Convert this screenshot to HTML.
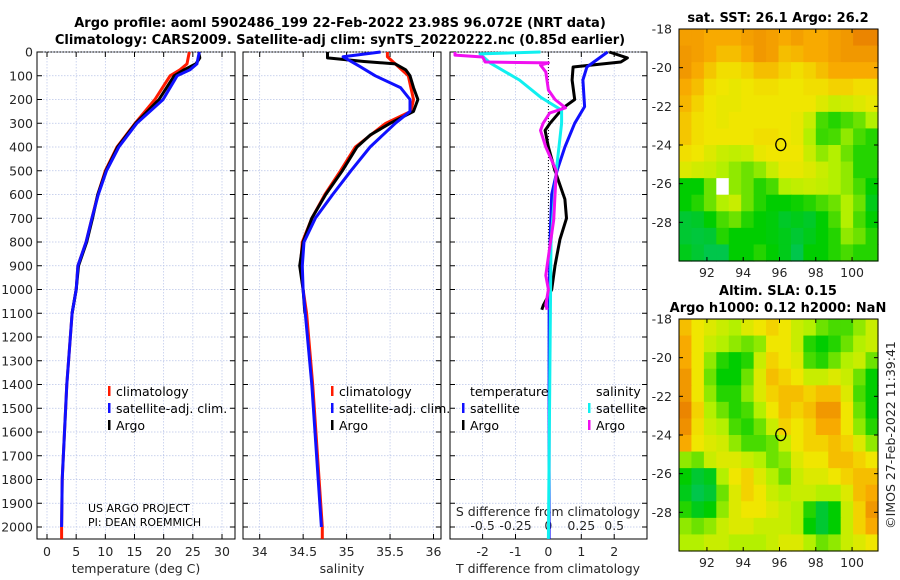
<!DOCTYPE html>
<html><head><meta charset="utf-8">
<style>
html,body{margin:0;padding:0;background:#fff;}
svg{display:block;font-family:"DejaVu Sans","Liberation Sans",sans-serif;}
.tk{font-size:12.5px;fill:#262626;}
.ttl{font-size:13px;font-weight:bold;fill:#000;}
.lg{font-size:12.5px;fill:#000;}
</style></head>
<body>
<svg id="chart" width="900" height="580" viewBox="0 0 900 580">
<text class="ttl" x="340" y="27" text-anchor="middle">Argo profile: aoml 5902486_199 22-Feb-2022 23.98S 96.072E (NRT data)</text>
<text class="ttl" x="340" y="44" text-anchor="middle">Climatology: CARS2009. Satellite-adj clim: synTS_20220222.nc (0.85d earlier)</text>
<text class="ttl" x="778" y="22" text-anchor="middle">sat. SST: 26.1 Argo: 26.2</text>
<text class="ttl" x="778" y="295" text-anchor="middle">Altim. SLA: 0.15</text>
<text class="ttl" x="778" y="312" text-anchor="middle">Argo h1000: 0.12 h2000: NaN</text>
<text class="tk" transform="translate(895,435) rotate(-90)" text-anchor="middle">©IMOS 27-Feb-2022 11:39:41</text>
<text x="88" y="512" style="font-size:11px">US ARGO PROJECT</text>
<text x="88" y="526" style="font-size:11px">PI: DEAN ROEMMICH</text>
<g id="g"></g>
</svg>
<script>
const depthTicks=[0,100,200,300,400,500,600,700,800,900,1000,1100,1200,1300,1400,1500,1600,1700,1800,1900,2000];
const tempTicks=[0,5,10,15,20,25,30];
const salTicks=[34,34.5,35,35.5,36];
const salTickLabels=["34","34.5","35","35.5","36"];
const tdiffTicks=[-2,-1,0,1,2];
const sdiffTicks=[-0.5,-0.25,0,0.25,0.5];
const sdiffTickLabels=["-0.5","-0.25","0","0.25","0.5"];
const tClimDepth=[0,50,75,100,200,300,400,500,600,700,800,900,1000,1100,1400,1800,2000,2050];
const tClim=[24.4,24.0,22.8,21.1,18.5,15.1,12.0,10.0,8.7,7.7,6.7,5.3,5.0,4.3,3.4,2.6,2.5,2.5];
const tSatDepth=[0,50,75,100,200,300,400,500,600,700,800,900,1000,1100,1400,1800,2000];
const tSat=[26.1,25.7,24.5,22.3,19.9,15.4,12.3,10.2,8.8,7.7,6.7,5.3,5.0,4.3,3.4,2.6,2.5];
const tArgoDepth=[0,25,50,75,100,200,300,400,500,600,700,800,900,1000,1100];
const tArgo=[26.0,26.2,25.5,23.5,21.8,19.2,15.2,12.1,10.1,8.7,7.8,6.8,5.4,5.0,4.3];
const sClimDepth=[0,20,50,100,200,250,300,400,500,600,700,800,900,1000,1100,1400,2000,2050];
const sClim=[35.47,35.47,35.56,35.71,35.77,35.74,35.45,35.1,34.93,34.75,34.6,34.49,34.47,34.5,34.54,34.61,34.72,34.72];
const sSatDepth=[0,20,60,100,150,200,250,300,400,500,600,700,800,900,1000,1400,2000];
const sSat=[35.39,34.96,35.15,35.33,35.62,35.73,35.73,35.56,35.27,35.05,34.84,34.64,34.51,34.49,34.5,34.6,34.71];
const sArgoDepth=[0,10,25,40,50,75,100,150,200,250,300,350,400,500,600,700,800,900,1000,1100];
const sArgo=[34.78,34.78,34.78,35.2,35.56,35.68,35.73,35.77,35.82,35.77,35.5,35.27,35.12,34.95,34.76,34.6,34.5,34.46,34.5,34.52];
const dTSatDepth=[0,63,118,230,300,400,500,600,800,1100,2050];
const dTSat=[1.8,1.17,1.05,1.1,0.8,0.5,0.26,0.1,0.05,0.02,0.02];
const dTArgoDepth=[0,25,42,63,118,200,235,300,330,400,500,620,700,790,900,1000,1065,1085];
const dTArgo=[1.85,2.4,2.2,0.75,0.72,0.8,0.45,0.05,-0.1,0.0,0.2,0.5,0.55,0.35,0.2,0.1,-0.15,-0.2];
const dSSatDepth=[0,8,47,118,190,245,300,500,800,2050];
const dSSat=[-0.06,-0.52,-0.44,-0.22,-0.06,0.1,0.1,0.06,0.02,0.0];
const dSArgoDepth=[0,13,21,42,46,55,84,160,200,235,257,300,330,400,500,707,900,940,1000,1065,1085];
const dSArgo=[-0.71,-0.71,-0.5,-0.48,0.0,-0.06,-0.02,0.0,0.05,0.13,0.01,-0.04,-0.06,-0.02,0.06,0.04,-0.01,-0.02,0.0,-0.02,-0.01];
const sstGrid=[
[.88,.88,.85,.85,.85,.88,.9,.88,.85,.88,.85,.85,.88,.9,.95,.95],
[.9,.88,.85,.8,.8,.85,.9,.88,.8,.82,.85,.85,.88,.9,.9,.9],
[.9,.85,.78,.72,.72,.75,.8,.8,.75,.72,.75,.8,.85,.85,.85,.85],
[.85,.8,.72,.7,.68,.7,.72,.72,.7,.7,.72,.72,.75,.75,.72,.72],
[.82,.75,.7,.68,.68,.7,.7,.7,.7,.7,.7,.65,.6,.62,.65,.68],
[.78,.72,.7,.68,.7,.7,.7,.7,.7,.68,.6,.4,.35,.4,.45,.55],
[.78,.72,.7,.7,.7,.7,.72,.72,.7,.68,.55,.38,.4,.5,.4,.35],
[.72,.7,.65,.6,.58,.6,.68,.7,.7,.7,.6,.5,.55,.45,.35,.35],
[.65,.62,.6,.55,.5,.45,.5,.6,.68,.68,.65,.6,.55,.5,.35,.35],
[.3,.3,.45,-1,.5,.45,.35,.4,.55,.58,.6,.58,.55,.5,.4,.3],
[.3,.35,.45,.55,.6,.45,.35,.3,.3,.32,.35,.4,.45,.55,.45,.25],
[.2,.22,.3,.4,.45,.35,.3,.28,.22,.25,.22,.3,.4,.55,.4,.3],
[.2,.18,.2,.35,.3,.3,.3,.28,.25,.2,.25,.3,.35,.5,.45,.35],
[.25,.2,.15,.15,.3,.3,.35,.3,.25,.15,.3,.3,.35,.4,.35,.35]];
const slaGrid=[
[.8,.7,.65,.6,.55,.65,.7,.75,.7,.6,.55,.45,.4,.4,.5,.6],
[.85,.7,.6,.55,.5,.45,.5,.7,.7,.6,.35,.3,.35,.45,.55,.6],
[.85,.7,.5,.35,.3,.35,.6,.75,.7,.65,.4,.35,.45,.55,.6,.45],
[.9,.7,.45,.3,.3,.45,.65,.8,.75,.7,.6,.6,.65,.6,.45,.3],
[.9,.7,.5,.35,.35,.5,.65,.75,.8,.8,.75,.8,.8,.65,.4,.3],
[.95,.75,.55,.45,.35,.4,.55,.7,.8,.75,.8,.9,.9,.7,.45,.3],
[.92,.72,.6,.55,.4,.35,.45,.6,.75,.7,.75,.85,.85,.7,.5,.35],
[.85,.7,.65,.62,.5,.4,.4,.45,.6,.7,.75,.75,.8,.75,.65,.5],
[.5,.45,.6,.65,.65,.6,.55,.45,.5,.65,.7,.7,.8,.8,.75,.7],
[.3,.2,.25,.55,.7,.75,.65,.55,.45,.6,.65,.65,.7,.75,.8,.8],
[.25,.15,.2,.45,.65,.75,.7,.6,.55,.6,.6,.55,.55,.65,.8,.85],
[.35,.25,.3,.5,.65,.7,.7,.65,.6,.55,.35,.2,.3,.6,.75,.9],
[.5,.45,.5,.6,.65,.65,.6,.6,.6,.55,.3,.2,.3,.6,.75,.85],
[.55,.55,.6,.6,.55,.55,.55,.6,.65,.65,.55,.45,.5,.6,.65,.7]];
const lonTicks=[92,94,96,98,100];
const latTicks=[-18,-20,-22,-24,-26,-28];
const floatLon=[96.072], floatLat=[-23.98];

const NS="http://www.w3.org/2000/svg";
const G=document.getElementById('g');
function mk(tag,attrs,parent){const e=document.createElementNS(NS,tag);for(const k in attrs)e.setAttribute(k,attrs[k]);(parent||G).appendChild(e);return e;}
function txt(x,y,s,anchor,cls){const t=mk('text',{x:x,y:y,'text-anchor':anchor||'middle','class':cls||'tk'});t.textContent=s;return t;}

const yTop=52, yPer=0.2375, yBot=539;
const Y=d=>yTop+d*yPer;
const panels=[{l:37,r:235},{l:243,r:441},{l:450,r:647}];
const xT=v=>47+v*(175/30);
const xS=v=>259.7+(v-34)*86.9;
const xDT=v=>548.4+v*32.9;
const xDS=v=>548.4+v*131.6;

panels.forEach((p,i)=>{
  const fr=mk('rect',{x:p.l,y:yTop,width:p.r-p.l,height:yBot-yTop,fill:'none',stroke:'#000','stroke-width':1});
  
  
  depthTicks.forEach(d=>{
    mk('line',{x1:p.l,x2:p.r,y1:Y(d),y2:Y(d),stroke:'#b8c4e8','stroke-width':0.7,'stroke-dasharray':'1.5,1.5'});
    mk('line',{x1:p.l,x2:p.l+5,y1:Y(d),y2:Y(d),stroke:'#000'});
    mk('line',{x1:p.r-5,x2:p.r,y1:Y(d),y2:Y(d),stroke:'#000'});
  });
});
depthTicks.forEach(d=>{const t=txt(33,Y(d)+4.5,String(d),'end');
  
  });
function xgrid(ticks,fx,labels,p,ly){
  ticks.forEach((v,i)=>{const x=fx(v);
    mk('line',{x1:x,x2:x,y1:yTop,y2:yBot,stroke:'#b8c4e8','stroke-width':0.7,'stroke-dasharray':'1.5,1.5'});
    mk('line',{x1:x,x2:x,y1:yBot-5,y2:yBot,stroke:'#000'});
    mk('line',{x1:x,x2:x,y1:yTop,y2:yTop+5,stroke:'#000'});
    const t=txt(x,ly,labels?labels[i]:String(v));
    
    
  });
}
xgrid(tempTicks,xT,null,panels[0],556);
xgrid(salTicks,xS,salTickLabels,panels[1],556);
xgrid(tdiffTicks,xDT,null,panels[2],556);
sdiffTicks.forEach((v,i)=>{const t=txt(xDS(v),530,sdiffTickLabels[i]);
  
  });
mk('line',{x1:xDT(0),x2:xDT(0),y1:yTop,y2:yBot,stroke:'#000','stroke-width':1,'stroke-dasharray':'1,2'});
let at;
at=txt(136,573,'temperature (deg C)');
at=txt(342,573,'salinity');
at=txt(548,573,'T difference from climatology');
at=txt(548,516,'S difference from climatology');

function line(vals,depths,fx,color,w,name){
  const pts=vals.map((v,i)=>fx(v).toFixed(1)+','+Y(depths[i]).toFixed(1)).join(' ');
  const l=mk('polyline',{points:pts,fill:'none',stroke:color,'stroke-width':w,'stroke-linejoin':'round'});
  
  
}
line(tClim,tClimDepth,xT,'#ff1a00',3,'temp-climatology-line');
line(tArgo,tArgoDepth,xT,'#000',3,'temp-argo-line');
line(tSat,tSatDepth,xT,'#1010ff',3,'temp-satellite-line');
line(sClim,sClimDepth,xS,'#ff1a00',3,'sal-climatology-line');
line(sArgo,sArgoDepth,xS,'#000',3,'sal-argo-line');
line(sSat,sSatDepth,xS,'#1010ff',3,'sal-satellite-line');
line(dTArgo,dTArgoDepth,xDT,'#000',3,'tdiff-argo-line');
line(dTSat,dTSatDepth,xDT,'#1010ff',3,'tdiff-satellite-line');
line(dSSat,dSSatDepth,xDS,'#10f0f0',3,'sdiff-satellite-line');
line(dSArgo,dSArgoDepth,xDS,'#f010f0',3,'sdiff-argo-line');

function legItem(x,y,color,label,name){
  const g=mk('g',{});
  
  
  mk('rect',{x:x,y:y-10,width:2.5,height:10,fill:color},g);
  const t=mk('text',{x:x+8,y:y,'class':'lg'},g);t.textContent=label;
}
legItem(108,396,'#ff1a00','climatology','legend-entry-climatology');
legItem(108,413,'#1010ff','satellite-adj. clim.','legend-entry-satellite-adj');
legItem(108,430,'#000','Argo','legend-entry-argo');
legItem(331,396,'#ff1a00','climatology','legend-entry-sal-climatology');
legItem(331,413,'#1010ff','satellite-adj. clim.','legend-entry-sal-satellite-adj');
legItem(331,430,'#000','Argo','legend-entry-sal-argo');
at=mk('text',{x:470,y:396,'class':'lg'});at.textContent='temperature';
at=mk('text',{x:596,y:396,'class':'lg'});at.textContent='salinity';
legItem(462,413,'#1010ff','satellite','legend-entry-tdiff-satellite');
legItem(462,430,'#000','Argo','legend-entry-tdiff-argo');
legItem(588,413,'#10f0f0','satellite','legend-entry-sdiff-satellite');
legItem(588,430,'#f010f0','Argo','legend-entry-sdiff-argo');

const stops=[[0,[0,190,150]],[0.3,[0,205,0]],[0.55,[180,240,0]],[0.7,[240,230,0]],[0.85,[248,170,0]],[1,[228,115,0]]];
function cmap(v){
  if(v<0)return '#fff';
  for(let i=1;i<stops.length;i++){if(v<=stops[i][0]){const a=stops[i-1],b=stops[i];const f=(v-a[0])/(b[0]-a[0]);
    const c=a[1].map((q,k)=>Math.round(q+(b[1][k]-q)*f));return 'rgb('+c.join(',')+')';}}
  return 'rgb(228,115,0)';
}
function drawMap(grid,top,name){
  const L=679,R=878,B=top+232;
  const lon0=90.46,lon1=101.43,lat0=-18,lat1=-30;
  const fx=lo=>L+(lo-lon0)/(lon1-lon0)*(R-L);
  const fy=la=>top+(la-lat0)/(lat1-lat0)*(B-top);
  const g=mk('g',{});
  
  
  const rows=grid.length, cols=grid[0].length, cw=(R-L)/cols, ch=(B-top)/rows;
  grid.forEach((row,r)=>row.forEach((v,c)=>{
    const cell=mk('rect',{x:(L+c*cw).toFixed(2),y:(top+r*ch).toFixed(2),width:(cw+0.6).toFixed(2),height:(ch+0.6).toFixed(2),fill:cmap(v)},g);
    
    
  }));
  mk('rect',{x:L,y:top,width:R-L,height:B-top,fill:'none',stroke:'#000'},g);
  lonTicks.forEach(lo=>{const x=fx(lo);mk('line',{x1:x,x2:x,y1:B-4,y2:B,stroke:'#000'},g);mk('line',{x1:x,x2:x,y1:top,y2:top+4,stroke:'#000'},g);
    const t=txt(x,B+16,String(lo));});
  latTicks.forEach(la=>{const y=fy(la);mk('line',{x1:L,x2:L+4,y1:y,y2:y,stroke:'#000'},g);mk('line',{x1:R-4,x2:R,y1:y,y2:y,stroke:'#000'},g);
    const t=txt(672,y+4.5,String(la),'end');});
  const c=mk('ellipse',{cx:fx(floatLon[0]),cy:fy(floatLat[0]),rx:5,ry:6,fill:'none',stroke:'#000','stroke-width':1.3},g);
  
  
}
drawMap(sstGrid,29,'sst-map');
drawMap(slaGrid,319,'sla-map');
</script>
</body></html>
